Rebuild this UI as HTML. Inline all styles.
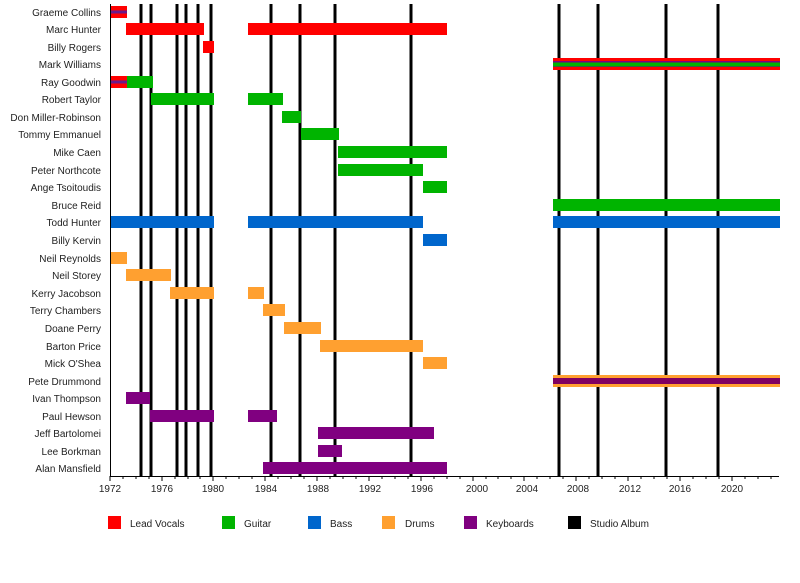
<!DOCTYPE html>
<html><head><style>body{margin:0;background:#fff}svg{display:block;font-family:"Liberation Sans",sans-serif}</style></head><body>
<svg width="800" height="583" viewBox="0 0 800 583">
<g stroke="#000" stroke-width="3">
<line x1="141" y1="4" x2="141" y2="476"/><line x1="151" y1="4" x2="151" y2="476"/><line x1="177" y1="4" x2="177" y2="476"/><line x1="186" y1="4" x2="186" y2="476"/><line x1="198" y1="4" x2="198" y2="476"/><line x1="211" y1="4" x2="211" y2="476"/><line x1="271" y1="4" x2="271" y2="476"/><line x1="300" y1="4" x2="300" y2="476"/><line x1="335" y1="4" x2="335" y2="476"/><line x1="411" y1="4" x2="411" y2="476"/><line x1="559" y1="4" x2="559" y2="476"/><line x1="598" y1="4" x2="598" y2="476"/><line x1="666" y1="4" x2="666" y2="476"/><line x1="718" y1="4" x2="718" y2="476"/>
</g>
<g>
<rect x="111" y="6" width="16" height="12" fill="#f00"/><rect x="111" y="10.5" width="16" height="3" fill="#6a1a8a"/>
<rect x="126" y="23" width="78" height="12" fill="#f00"/><rect x="248" y="23" width="199" height="12" fill="#f00"/>
<rect x="203" y="41" width="11" height="12" fill="#f00"/>
<rect x="553" y="58" width="227" height="12" fill="#f00"/><rect x="553" y="61" width="227" height="6" fill="#800080"/><rect x="553" y="62.5" width="227" height="4" fill="#00b400"/>
<rect x="127" y="76" width="26" height="12" fill="#00b400"/><rect x="111" y="76" width="16" height="12" fill="#f00"/><rect x="111" y="80.5" width="16" height="3" fill="#6a1a8a"/>
<g fill="#00b400">
<rect x="151" y="93" width="63" height="12"/><rect x="248" y="93" width="35" height="12"/>
<rect x="282" y="111" width="19" height="12"/>
<rect x="301" y="128" width="38" height="12"/>
<rect x="338" y="146" width="109" height="12"/>
<rect x="338" y="164" width="85" height="12"/>
<rect x="423" y="181" width="24" height="12"/>
<rect x="553" y="199" width="227" height="12"/>
</g>
<g fill="#0066cc">
<rect x="111" y="216" width="103" height="12"/><rect x="248" y="216" width="175" height="12"/><rect x="553" y="216" width="227" height="12"/>
<rect x="423" y="234" width="24" height="12"/>
</g>
<g fill="#ffa030">
<rect x="111" y="252" width="16" height="12"/>
<rect x="126" y="269" width="45" height="12"/>
<rect x="170" y="287" width="44" height="12"/><rect x="248" y="287" width="16" height="12"/>
<rect x="263" y="304" width="22" height="12"/>
<rect x="284" y="322" width="37" height="12"/>
<rect x="320" y="340" width="103" height="12"/>
<rect x="423" y="357" width="24" height="12"/>
<rect x="553" y="375" width="227" height="12"/>
</g>
<rect x="553" y="378" width="227" height="6" fill="#800060"/>
<g fill="#800080">
<rect x="126" y="392" width="24" height="12"/>
<rect x="150" y="410" width="64" height="12"/><rect x="248" y="410" width="29" height="12"/>
<rect x="318" y="427" width="116" height="12"/>
<rect x="318" y="445" width="24" height="12"/>
<rect x="263" y="462" width="184" height="12"/>
</g>
</g>
<line x1="110.5" y1="4" x2="110.5" y2="477" stroke="#000"/>
<line x1="110" y1="476.5" x2="779" y2="476.5" stroke="#000"/>
<g font-size="10" fill="#222" text-anchor="end">
<text x="101" y="16">Graeme Collins</text><text x="101" y="33">Marc Hunter</text><text x="101" y="51">Billy Rogers</text><text x="101" y="68">Mark Williams</text><text x="101" y="86">Ray Goodwin</text><text x="101" y="103">Robert Taylor</text><text x="101" y="121">Don Miller-Robinson</text><text x="101" y="138">Tommy Emmanuel</text><text x="101" y="156">Mike Caen</text><text x="101" y="174">Peter Northcote</text><text x="101" y="191">Ange Tsoitoudis</text><text x="101" y="209">Bruce Reid</text><text x="101" y="226">Todd Hunter</text><text x="101" y="244">Billy Kervin</text><text x="101" y="262">Neil Reynolds</text><text x="101" y="279">Neil Storey</text><text x="101" y="297">Kerry Jacobson</text><text x="101" y="314">Terry Chambers</text><text x="101" y="332">Doane Perry</text><text x="101" y="350">Barton Price</text><text x="101" y="367">Mick O'Shea</text><text x="101" y="385">Pete Drummond</text><text x="101" y="402">Ivan Thompson</text><text x="101" y="420">Paul Hewson</text><text x="101" y="437">Jeff Bartolomei</text><text x="101" y="455">Lee Borkman</text><text x="101" y="472">Alan Mansfield</text>
</g>
<g font-size="10" fill="#222" text-anchor="middle">
<text x="110" y="492">1972</text><text x="162" y="492">1976</text><text x="213" y="492">1980</text><text x="266" y="492">1984</text><text x="318" y="492">1988</text><text x="370" y="492">1992</text><text x="422" y="492">1996</text><text x="477" y="492">2000</text><text x="527" y="492">2004</text><text x="578" y="492">2008</text><text x="630" y="492">2012</text><text x="680" y="492">2016</text><text x="732" y="492">2020</text>
</g>
<g stroke="#000">
<path d="M110 476v5M123 476v3M136 476v3M149 476v3M162 476v5M175 476v3M188 476v3M200 476v3M213 476v5M226 476v3M239 476v3M252 476v3M265 476v5M278 476v3M291 476v3M304 476v3M317 476v5M330 476v3M343 476v3M356 476v3M369 476v5M382 476v3M395 476v3M408 476v3M421 476v5M434 476v3M447 476v3M460 476v3M473 476v5M486 476v3M498 476v3M511 476v3M524 476v5M537 476v3M550 476v3M563 476v3M576 476v5M589 476v3M602 476v3M615 476v3M628 476v5M641 476v3M654 476v3M667 476v3M680 476v5M693 476v3M706 476v3M719 476v3M732 476v5M745 476v3M758 476v3M771 476v3"/>
</g>
<g font-size="10" fill="#222">
<rect x="108" y="516" width="13" height="13" fill="#f00"/><text x="130" y="527">Lead Vocals</text>
<rect x="222" y="516" width="13" height="13" fill="#00b400"/><text x="244" y="527">Guitar</text>
<rect x="308" y="516" width="13" height="13" fill="#0066cc"/><text x="330" y="527">Bass</text>
<rect x="382" y="516" width="13" height="13" fill="#ffa030"/><text x="405" y="527">Drums</text>
<rect x="464" y="516" width="13" height="13" fill="#800080"/><text x="486" y="527">Keyboards</text>
<rect x="568" y="516" width="13" height="13" fill="#000"/><text x="590" y="527">Studio Album</text>
</g>
</svg>
</body></html>
